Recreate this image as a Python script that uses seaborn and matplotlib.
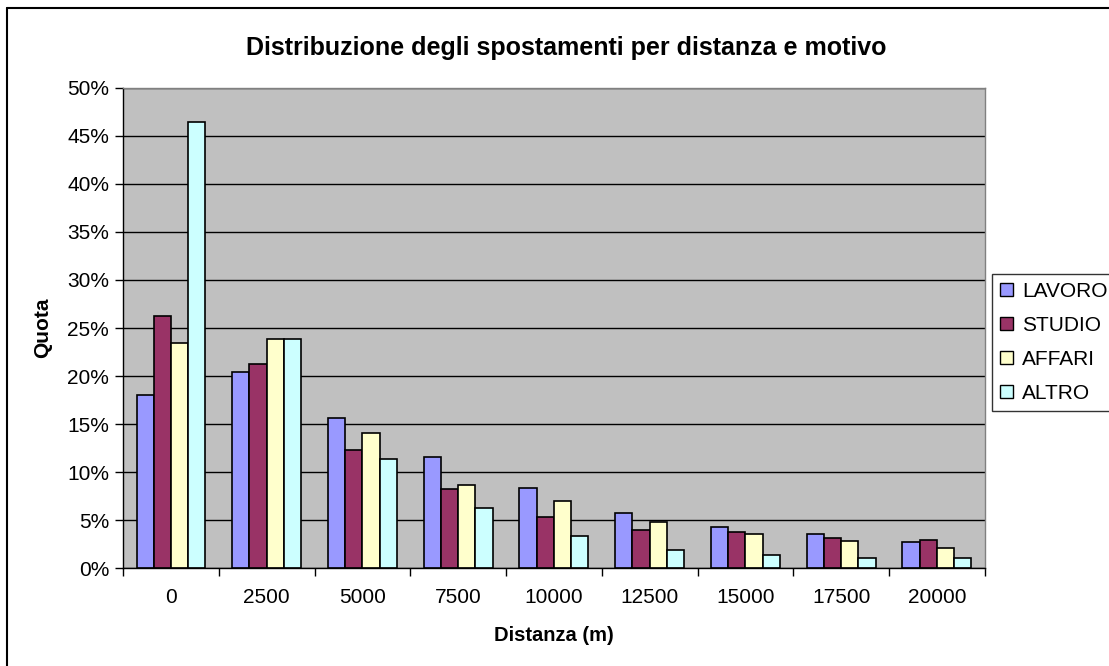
import pandas as pd
import matplotlib.pyplot as plt
import seaborn as sns
from matplotlib.lines import Line2D
from matplotlib.patches import Rectangle
from matplotlib.ticker import PercentFormatter, FixedLocator

sns.set_theme(style="white")
plt.rcParams['font.family'] = ['Liberation Sans', 'DejaVu Sans']
plt.rcParams.update({'text.color': 'black', 'axes.labelcolor': 'black',
                     'xtick.color': 'black', 'ytick.color': 'black'})

DISTANCES = ['0', '2500', '5000', '7500', '10000', '12500', '15000', '17500', '20000']
MOTIVES = ['LAVORO', 'STUDIO', 'AFFARI', 'ALTRO']
LAVORO = [18.0, 20.4, 15.6, 11.6, 8.3, 5.7, 4.3, 3.5, 2.75]
STUDIO = [26.2, 21.2, 12.3, 8.2, 5.35, 4.0, 3.8, 3.1, 2.95]
AFFARI = [23.4, 23.9, 14.05, 8.7, 6.95, 4.85, 3.5, 2.8, 2.05]
ALTRO = [46.4, 23.9, 11.4, 6.25, 3.3, 1.9, 1.35, 1.05, 1.05]
COLORS = ['#9999FF', '#993366', '#FFFFCC', '#CCFFFF']

rows = []
for motive, values in zip(MOTIVES, [LAVORO, STUDIO, AFFARI, ALTRO]):
    for d, v in zip(DISTANCES, values):
        rows.append({'Distanza': d, 'Motivo': motive, 'Quota': v})
df = pd.DataFrame(rows)

fig = plt.figure(figsize=(11.09, 6.66), dpi=100)
ax = fig.add_axes([0.111, 0.147, 0.777, 0.721])
ax.set_facecolor('#C0C0C0')

sns.barplot(data=df, x='Distanza', y='Quota', hue='Motivo', order=DISTANCES,
            hue_order=MOTIVES, palette=COLORS, width=0.72, gap=0,
            edgecolor='black', linewidth=1.2, saturation=1, ax=ax, legend=False)

ax.set_ylim(0, 50)
ax.set_xlim(-0.5, len(DISTANCES) - 0.5)
ax.set_yticks(range(0, 51, 5))
ax.yaxis.set_major_formatter(PercentFormatter(100, decimals=0))
ax.grid(axis='y', color='black', linewidth=1)
ax.set_axisbelow(True)

# Excel-style category ticks between groups
ax.xaxis.set_minor_locator(FixedLocator([i - 0.5 for i in range(len(DISTANCES) + 1)]))
ax.tick_params(axis='x', which='major', length=0, labelsize=15, pad=14)
ax.tick_params(axis='x', which='minor', length=6, width=1, color='black', direction='out')
ax.tick_params(axis='y', length=6, width=1, color='black', direction='out', labelsize=15, pad=4)
ax.xaxis.set_ticks_position('bottom')
ax.yaxis.set_ticks_position('left')

for side in ['top', 'right']:
    ax.spines[side].set_color('#808080')
    ax.spines[side].set_linewidth(1)
for side in ['left', 'bottom']:
    ax.spines[side].set_color('black')
    ax.spines[side].set_linewidth(1)

ax.set_xlabel('Distanza (m)', fontsize=14.5, fontweight='bold', labelpad=14)
ax.set_ylabel('Quota', fontsize=15, fontweight='bold', labelpad=11)
fig.text(0.511, 0.928, 'Distribuzione degli spostamenti per distanza e motivo',
         ha='center', va='center', fontsize=18, fontweight='bold')

handles = [Rectangle((0, 0), 1, 1, facecolor=c, edgecolor='black', linewidth=1)
           for c in COLORS]
leg = fig.legend(handles, MOTIVES, loc='upper left', bbox_to_anchor=(0.8945, 0.589),
                 frameon=True, fancybox=False, fontsize=15, handlelength=0.6,
                 handleheight=0.6, handletextpad=0.45, labelspacing=0.72,
                 borderpad=0.4, borderaxespad=0)
leg.get_frame().set_edgecolor('black')
leg.get_frame().set_linewidth(1)

# chart-area border (only left and top edges are visible in the crop)
fig.lines.append(Line2D([0.0063, 0.0063], [0, 0.988], transform=fig.transFigure,
                        color='black', linewidth=1.5))
fig.lines.append(Line2D([0.0063, 1], [0.988, 0.988], transform=fig.transFigure,
                        color='black', linewidth=1.5))

fig.savefig('out.png', dpi=100)
